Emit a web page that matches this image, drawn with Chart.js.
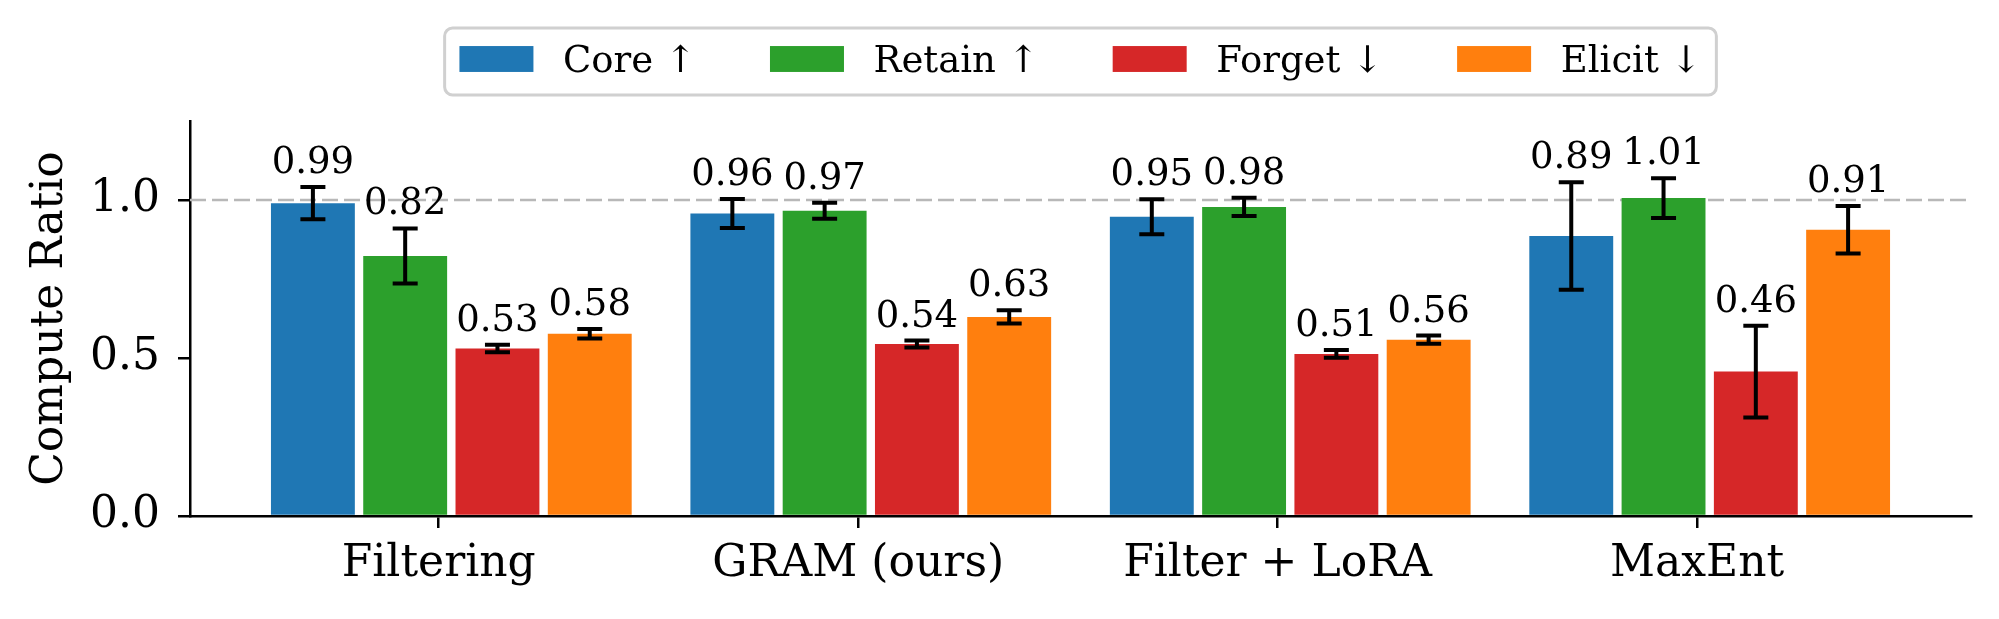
<!DOCTYPE html>
<html><head><meta charset="utf-8">
<script src="https://cdn.jsdelivr.net/npm/chart.js@4"></script>
<style>html,body{margin:0;padding:0;background:#fff;} canvas{display:block}</style>
</head><body>
<canvas id="c" width="1999" height="619"></canvas>
<script>
// ---- data ----
const categories = ["Filtering", "GRAM (ours)", "Filter + LoRA", "MaxEnt"];
const seriesLabels = ["Core \u2191", "Retain \u2191", "Forget \u2193", "Elicit \u2193"];
const coreValues   = [0.990, 0.957, 0.947, 0.886];
const retainValues = [0.823, 0.966, 0.978, 1.006];
const forgetValues = [0.530, 0.544, 0.513, 0.457];
const elicitValues = [0.577, 0.630, 0.558, 0.906];
const coreErrors   = [0.051, 0.046, 0.055, 0.170];
const retainErrors = [0.087, 0.025, 0.029, 0.063];
const forgetErrors = [0.012, 0.011, 0.012, 0.145];
const elicitErrors = [0.015, 0.021, 0.013, 0.075];
const yTickValues = [0, 0.5, 1.0];
const referenceLine = 1.0;

// ---- styles ----
const colors = ["#1f77b4", "#2ca02c", "#d62728", "#ff7f0e"];
const FONT = "'DejaVu Serif', serif";
const BAR_STEP = 0.22, BAR_SHIFT = -0.3, BAR_WIDTH = 0.2;

const series = [
  {label: seriesLabels[0], values: coreValues,   errors: coreErrors,   color: colors[0]},
  {label: seriesLabels[1], values: retainValues, errors: retainErrors, color: colors[1]},
  {label: seriesLabels[2], values: forgetValues, errors: forgetErrors, color: colors[2]},
  {label: seriesLabels[3], values: elicitValues, errors: elicitErrors, color: colors[3]},
];

Chart.defaults.font.family = FONT;
Chart.defaults.color = '#000';

const datasets = series.map((s, k) => ({
  label: s.label,
  data: s.values.map((v, i) => ({x: i + BAR_SHIFT + k * BAR_STEP, y: v})),
  backgroundColor: s.color,
  borderWidth: 0,
  grouped: false,
  categoryPercentage: 1,
  barPercentage: BAR_WIDTH / BAR_STEP,
}));

const refLinePlugin = {
  id: 'refLine',
  beforeDatasetsDraw(chart) {
    const {ctx, chartArea} = chart;
    const y = chart.scales.y.getPixelForValue(referenceLine);
    ctx.save();
    ctx.strokeStyle = '#b8b8b8';
    ctx.lineWidth = 2.5;
    ctx.setLineDash([16, 6]);
    ctx.beginPath();
    ctx.moveTo(chartArea.left, y);
    ctx.lineTo(chartArea.right, y);
    ctx.stroke();
    ctx.restore();
  }
};

const errorPlugin = {
  id: 'errorBars',
  afterDatasetsDraw(chart) {
    const {ctx} = chart;
    const ys = chart.scales.y;
    ctx.save();
    series.forEach((s, k) => {
      const meta = chart.getDatasetMeta(k);
      meta.data.forEach((bar, i) => {
        const v = s.values[i], e = s.errors[i];
        const x = bar.x;
        const yt = ys.getPixelForValue(v + e), yb = ys.getPixelForValue(v - e);
        ctx.strokeStyle = '#000';
        ctx.lineWidth = 4;
        ctx.beginPath();
        ctx.moveTo(x, yt); ctx.lineTo(x, yb);
        ctx.moveTo(x - 12.5, yt); ctx.lineTo(x + 12.5, yt);
        ctx.moveTo(x - 12.5, yb); ctx.lineTo(x + 12.5, yb);
        ctx.stroke();
        ctx.fillStyle = '#000';
        ctx.font = `37px ${FONT}`;
        ctx.textAlign = 'center';
        ctx.textBaseline = 'alphabetic';
        ctx.fillText(v.toFixed(2), x, yt - 14);
      });
    });
    ctx.restore();
  }
};

const legendPlugin = {
  id: 'boxLegend',
  afterDraw(chart) {
    const {ctx, chartArea} = chart;
    const fs = 37;
    ctx.save();
    ctx.font = `${fs}px ${FONT}`;
    const widths = series.map(s => ctx.measureText(s.label).width);
    const pad = 0.4 * fs, hl = 2 * fs, hh = 0.7 * fs, tp = 0.8 * fs, cs = 2 * fs;
    const inner = widths.reduce((a, w) => a + hl + tp + w, 0) + cs * (series.length - 1);
    const W = inner + 2 * pad, H = 67;
    const x0 = (chartArea.left + chartArea.right) / 2 - W / 2, y0 = 28;
    ctx.beginPath();
    ctx.roundRect(x0, y0, W, H, 8);
    ctx.fillStyle = 'rgba(255,255,255,0.8)';
    ctx.fill();
    ctx.strokeStyle = '#d0d0d0';
    ctx.lineWidth = 3;
    ctx.stroke();
    let x = x0 + pad;
    const cy = y0 + 31;
    series.forEach((s, k) => {
      ctx.fillStyle = s.color;
      ctx.fillRect(x, cy - hh / 2, hl, hh);
      ctx.fillStyle = '#000';
      ctx.textAlign = 'left';
      ctx.textBaseline = 'alphabetic';
      ctx.fillText(s.label, x + hl + tp, cy + 13);
      x += hl + tp + widths[k] + cs;
    });
    ctx.restore();
  }
};

const axisGrid = {display: true, drawOnChartArea: false, drawTicks: true, tickLength: 12, color: '#000', lineWidth: 2.5, offset: false};
const axisBorder = {display: true, color: '#000', width: 2.5};

new Chart(document.getElementById('c'), {
  type: 'bar',
  data: {datasets},
  options: {
    responsive: false,
    animation: false,
    devicePixelRatio: 1,
    layout: {padding: {top: 121, right: 28, left: 0, bottom: 0}},
    plugins: {legend: {display: false}, tooltip: {enabled: false}},
    scales: {
      x: {
        type: 'linear', min: -0.593, max: 3.653, z: 1, offset: false,
        afterBuildTicks: s => { s.ticks = categories.map((c, i) => ({value: i})); },
        afterFit: s => { s.height = 103; },
        ticks: {callback: v => categories[v], font: {size: 44}, color: '#000', padding: 10, autoSkip: false, maxRotation: 0, minRotation: 0},
        grid: axisGrid, border: axisBorder
      },
      y: {
        type: 'linear', min: 0, max: 1.25, z: 1,
        afterBuildTicks: s => { s.ticks = yTickValues.map(v => ({value: v})); },
        afterFit: s => { s.width = 190; },
        ticks: {callback: v => Number(v).toFixed(1), font: {size: 44}, color: '#000', padding: 18},
        grid: axisGrid, border: axisBorder,
        title: {display: true, text: 'Compute Ratio', font: {size: 44}, color: '#000', padding: {top: 24, bottom: 0}}
      }
    }
  },
  plugins: [refLinePlugin, errorPlugin, legendPlugin]
});
</script>
</body></html>
